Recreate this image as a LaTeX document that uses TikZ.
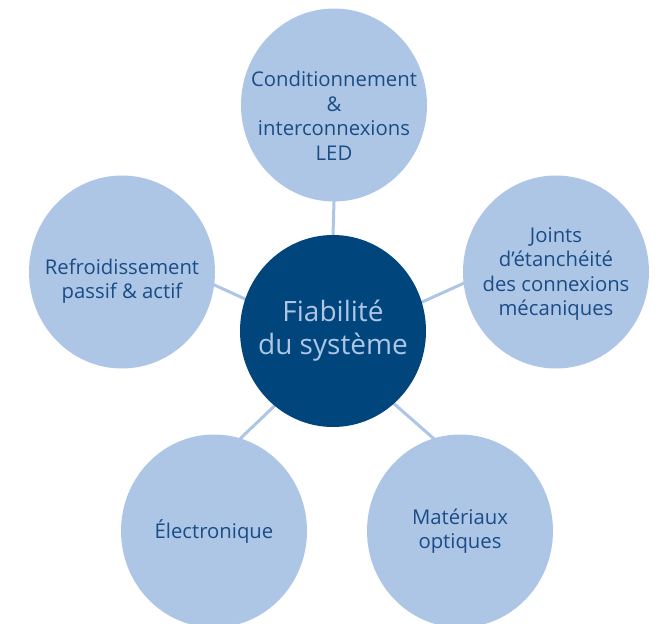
\documentclass[tikz,border=0pt]{standalone}
\usepackage{fontspec}
\setmainfont{Open Sans}
\usepackage{xcolor}
\usepackage{tikz}
\usetikzlibrary{
  shapes.geometric,
  backgrounds,
}

\definecolor{petal}{HTML}{AEC6E6}
\definecolor{core}{HTML}{00457C}
\definecolor{petaltext}{HTML}{1A4C86}

\begin{document}
\begin{tikzpicture}[
  x=1pt, y=-1pt,
  petal/.style={
    ellipse, fill=petal,
    minimum width=186pt, minimum height=193pt,
    inner sep=0pt,
  },
  topic/.style={
    text=petaltext, align=center, inner sep=0pt,
    font=\fontsize{20.3}{24.5}\selectfont,
  },
  hub/.style={
    ellipse, fill=core,
    minimum width=186pt, minimum height=192pt,
    inner sep=0pt,
  },
  hubtext/.style={
    text=petal, align=center, inner sep=0pt,
    font=\fontsize{28}{33}\selectfont,
  },
  spoke/.style={draw=petal, line width=3pt, shorten <=-4pt, shorten >=-4pt},
]
  \useasboundingbox (0,0) rectangle (662,624);

  \node[hub, label={[hubtext]center:{Fiabilit\'e\\du syst\`eme}}] (sys) at (333,331) {};

  % Outer topics
  \node[petal, label={[topic, yshift=-11pt]center:{Conditionnement\\\&\\interconnexions\\LED}}]
    (led) at (334,105) {};
  \node[petal, label={[topic, yshift=-9pt]center:{Refroidissement\\passif \& actif}}]
    (cool) at (122,272) {};
  \node[petal, label={[topic, yshift=-2pt]center:{Joints\\d’\'etanch\'eit\'e\\des connexions\\m\'ecaniques}}]
    (seal) at (556,272) {};
  \node[petal, label={[topic]center:{\'Electronique}}]
    (elec) at (214,531) {};
  \node[petal, label={[topic]center:{Mat\'eriaux\\optiques}}]
    (opt) at (460,531) {};

  % Spokes (hub angle / topic angle)
  \begin{scope}[on background layer]
    \foreach \t/\a/\b in {led/90/270, cool/160/-8, seal/18/187, elec/232/74, opt/310/106}
      \draw[spoke] (sys.\a) -- (\t.\b);
  \end{scope}

\end{tikzpicture}
\end{document}
